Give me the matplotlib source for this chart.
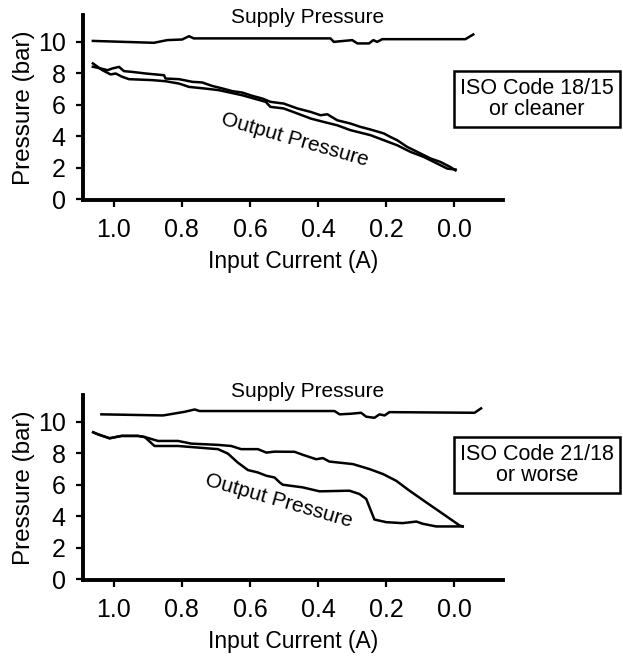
import matplotlib
matplotlib.use("Agg")
import matplotlib.pyplot as plt

plt.rcParams['font.family'] = ['Liberation Sans', 'DejaVu Sans']

# ---- top panel: ISO 18/15 or cleaner ----
top_supply_I = [1.061, 0.882, 0.843, 0.799, 0.779, 0.765, 0.364, 0.354, 0.300, 0.285,
                0.251, 0.238, 0.227, 0.212, -0.032, -0.055]
top_supply_P = [10.06, 9.94, 10.11, 10.15, 10.36, 10.22, 10.22, 10.00, 10.11, 9.90,
                9.90, 10.11, 10.00, 10.17, 10.17, 10.47]

top_out1_I = [1.061, 1.033, 1.009, 0.994, 0.975, 0.955, 0.887, 0.848, 0.808, 0.779,
              0.730, 0.691, 0.623, 0.554, 0.540, 0.501, 0.461, 0.422, 0.383, 0.344,
              0.305, 0.266, 0.246, 0.207, 0.168, 0.129, 0.090, 0.051, 0.021, -0.003]
top_out1_P = [8.63, 8.20, 7.93, 7.99, 7.78, 7.63, 7.57, 7.50, 7.35, 7.14,
              7.03, 6.93, 6.61, 6.19, 5.87, 5.77, 5.45, 5.13, 4.91, 4.70,
              4.39, 4.18, 4.07, 3.75, 3.43, 3.01, 2.69, 2.27, 1.95, 1.89]

top_out2_I = [1.061, 1.038, 1.018, 1.004, 0.984, 0.970, 0.945, 0.906, 0.852, 0.848,
              0.808, 0.769, 0.740, 0.711, 0.681, 0.652, 0.623, 0.593, 0.564, 0.540,
              0.501, 0.461, 0.422, 0.393, 0.373, 0.344, 0.305, 0.276, 0.246, 0.207,
              0.188, 0.168, 0.139, 0.109, 0.070, 0.041, 0.012, -0.003]
top_out2_P = [8.42, 8.31, 8.20, 8.31, 8.41, 8.14, 8.09, 7.99, 7.88, 7.67,
              7.63, 7.46, 7.42, 7.20, 7.04, 6.87, 6.78, 6.57, 6.40, 6.19,
              6.08, 5.77, 5.55, 5.34, 5.40, 5.02, 4.81, 4.60, 4.43, 4.18,
              3.96, 3.75, 3.33, 3.01, 2.59, 2.37, 2.05, 1.84]

# ---- bottom panel: ISO 21/18 or worse ----
bot_supply_I = [1.036, 0.855, 0.792, 0.762, 0.748, 0.352, 0.337, 0.303, 0.274, 0.259,
                0.235, 0.220, 0.205, 0.191, -0.059, -0.078]
bot_supply_P = [10.47, 10.40, 10.63, 10.78, 10.68, 10.68, 10.47, 10.51, 10.57, 10.32,
                10.25, 10.47, 10.40, 10.61, 10.57, 10.85]

bot_out1_I = [1.06, 1.046, 1.012, 0.977, 0.929, 0.909, 0.870, 0.811, 0.772, 0.694,
              0.655, 0.626, 0.577, 0.552, 0.528, 0.469, 0.445, 0.406, 0.386, 0.367,
              0.298, 0.249, 0.210, 0.171, 0.132, 0.083, 0.034, -0.015, -0.024]
bot_out1_P = [9.33, 9.20, 8.95, 9.10, 9.10, 9.03, 8.78, 8.78, 8.61, 8.53,
              8.46, 8.26, 8.26, 8.04, 8.10, 8.09, 7.90, 7.62, 7.69, 7.47,
              7.31, 6.99, 6.68, 6.25, 5.62, 4.88, 4.15, 3.41, 3.35]

bot_out2_I = [1.06, 1.046, 1.012, 0.977, 0.929, 0.909, 0.880, 0.811, 0.753, 0.694,
              0.665, 0.636, 0.606, 0.577, 0.552, 0.528, 0.513, 0.504, 0.445, 0.396,
              0.308, 0.279, 0.259, 0.235, 0.200, 0.152, 0.112, 0.093, 0.054, -0.005, -0.024]
bot_out2_P = [9.33, 9.20, 8.95, 9.10, 9.10, 9.03, 8.46, 8.46, 8.36, 8.26,
              7.98, 7.41, 6.93, 6.78, 6.57, 6.46, 6.15, 6.00, 5.83, 5.58,
              5.62, 5.41, 5.10, 3.79, 3.62, 3.56, 3.66, 3.52, 3.35, 3.35, 3.35]

xticks = [1.0, 0.8, 0.6, 0.4, 0.2, 0.0]
yticks = [0, 2, 4, 6, 8, 10]

fig = plt.figure(figsize=(6.23, 6.56), dpi=100)
ax1 = fig.add_axes([0.1332, 0.695, 0.674, 0.282])
ax2 = fig.add_axes([0.1332, 0.1159, 0.674, 0.282])

panels = [
    (ax1, top_supply_I, top_supply_P, top_out1_I, top_out1_P, top_out2_I, top_out2_P,
     "ISO Code 18/15\nor cleaner", 11.57, 0.47, 3.75, 99),
    (ax2, bot_supply_I, bot_supply_P, bot_out1_I, bot_out1_P, bot_out2_I, bot_out2_P,
     "ISO Code 21/18\nor worse", 11.94, 0.515, 5.0, 465),
]

for ax, sI, sP, o1I, o1P, o2I, o2P, box_text, sup_y, out_x, out_y, box_py in panels:
    ax.plot(sI, sP, color='black', lw=1.8)
    ax.plot(o1I, o1P, color='black', lw=1.8)
    ax.plot(o2I, o2P, color='black', lw=1.8)
    ax.set_xlim(1.09, -0.142)
    ax.set_ylim(-0.05, 11.7)
    ax.set_xticks(xticks)
    ax.set_xticklabels(["%.1f" % v for v in xticks])
    ax.set_yticks(yticks)
    for s in ['top', 'right']:
        ax.spines[s].set_visible(False)
    for s in ['left', 'bottom']:
        ax.spines[s].set_linewidth(2.8)
    ax.tick_params(axis='both', direction='out', length=5, width=1.6, labelsize=18)
    ax.tick_params(axis='x', pad=8)
    ax.tick_params(axis='y', pad=7.5)
    ax.set_xlabel("Input Current (A)", fontsize=16.5, labelpad=6)
    ax.set_ylabel("Pressure (bar)", fontsize=17.5, labelpad=2)
    ax.text(0.43, sup_y, "Supply Pressure", fontsize=15, ha='center', va='center',
            clip_on=False)
    ax.text(out_x, out_y, "Output Pressure", fontsize=15, ha='center', va='center',
            rotation=-16)
    fig.text(537 / 623, 1 - box_py / 656, box_text, fontsize=15.5, ha='center', va='center',
             linespacing=1.05,
             bbox=dict(boxstyle='square,pad=0.3', facecolor='white', edgecolor='black',
                       linewidth=1.8))

fig.savefig("out.png", dpi=100)
